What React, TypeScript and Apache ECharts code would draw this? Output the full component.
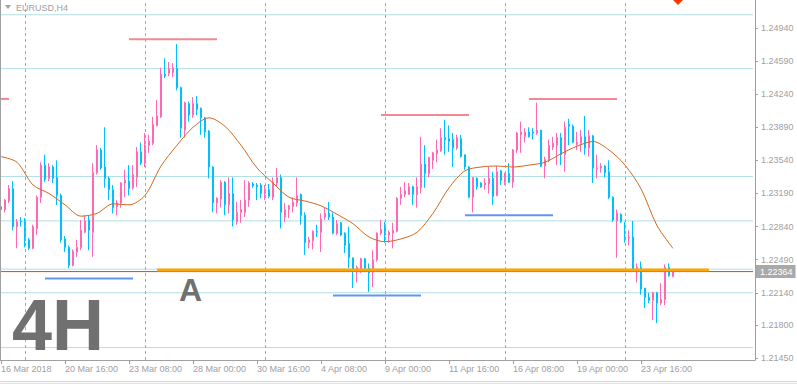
import React, { useEffect, useRef } from 'react';
import * as echarts from 'echarts';

// ---- axis labels ----
const tickLabels = ['16 Mar 2018', '20 Mar 16:00', '23 Mar 08:00', '28 Mar 00:00', '30 Mar 16:00', '4 Apr 08:00', '9 Apr 00:00', '11 Apr 16:00', '16 Apr 08:00', '19 Apr 00:00', '23 Apr 16:00'];
const tickEvery = 16;
const barSlots = 189;
const yTicks = [1.2145, 1.2180, 1.2214, 1.2249, 1.2284, 1.2319, 1.2354, 1.2389, 1.2424, 1.2459, 1.2494];
const yMin = 1.21429;
const yMax = 1.25236;

// ---- EURUSD H4 candles ----
const openP = [
  1.2305, 1.2302, 1.2311, 1.2324, 1.2284, 1.2290, 1.2289, 1.2270, 1.2261, 1.2282,
  1.2315, 1.2349, 1.2335, 1.2347, 1.2336, 1.2317, 1.2271, 1.2262, 1.2243, 1.2257,
  1.2262, 1.2278, 1.2291, 1.2278, 1.2341, 1.2365, 1.2347, 1.2335, 1.2323, 1.2305,
  1.2309, 1.2330, 1.2332, 1.2325, 1.2336, 1.2363, 1.2351, 1.2370, 1.2372, 1.2391,
  1.2400, 1.2445, 1.2446, 1.2447, 1.2451, 1.2431, 1.2386, 1.2414, 1.2402, 1.2414,
  1.2409, 1.2399, 1.2385, 1.2347, 1.2309, 1.2313, 1.2331, 1.2307, 1.2319, 1.2289,
  1.2299, 1.2299, 1.2312, 1.2329, 1.2328, 1.2328, 1.2319, 1.2323, 1.2315, 1.2330,
  1.2336, 1.2294, 1.2302, 1.2305, 1.2309, 1.2318, 1.2296, 1.2267, 1.2269, 1.2279,
  1.2278, 1.2294, 1.2298, 1.2294, 1.2277, 1.2288, 1.2277, 1.2266, 1.2251, 1.2238,
  1.2238, 1.2250, 1.2240, 1.2236, 1.2249, 1.2277, 1.2286, 1.2275, 1.2277, 1.2279,
  1.2314, 1.2318, 1.2318, 1.2326, 1.2318, 1.2325, 1.2350, 1.2340, 1.2354, 1.2361,
  1.2364, 1.2378, 1.2377, 1.2376, 1.2367, 1.2377, 1.2360, 1.2347, 1.2315, 1.2335,
  1.2330, 1.2328, 1.2329, 1.2335, 1.2317, 1.2343, 1.2331, 1.2340, 1.2331, 1.2365,
  1.2381, 1.2379, 1.2384, 1.2384, 1.2383, 1.2386, 1.2348, 1.2354, 1.2368, 1.2370,
  1.2378, 1.2360, 1.2392, 1.2390, 1.2371, 1.2372, 1.2379, 1.2367, 1.2380, 1.2345,
  1.2346, 1.2348, 1.2342, 1.2315, 1.2290, 1.2297, 1.2273, 1.2272, 1.2273, 1.2238,
  1.2241, 1.2219, 1.2209, 1.2206, 1.2214, 1.2203, 1.2207, 1.2241, 1.2231,
];
const closeP = [
  1.2302, 1.2312, 1.2324, 1.2284, 1.2289, 1.2289, 1.2269, 1.2261, 1.2284, 1.2315,
  1.2349, 1.2334, 1.2347, 1.2335, 1.2317, 1.2270, 1.2262, 1.2243, 1.2258, 1.2262,
  1.2280, 1.2290, 1.2280, 1.2341, 1.2365, 1.2346, 1.2335, 1.2323, 1.2304, 1.2309,
  1.2330, 1.2333, 1.2324, 1.2339, 1.2363, 1.2351, 1.2370, 1.2374, 1.2392, 1.2401,
  1.2445, 1.2443, 1.2451, 1.2452, 1.2431, 1.2388, 1.2415, 1.2402, 1.2414, 1.2408,
  1.2399, 1.2384, 1.2347, 1.2309, 1.2314, 1.2331, 1.2307, 1.2319, 1.2291, 1.2299,
  1.2302, 1.2312, 1.2330, 1.2327, 1.2326, 1.2319, 1.2323, 1.2316, 1.2331, 1.2336,
  1.2299, 1.2302, 1.2306, 1.2310, 1.2317, 1.2296, 1.2267, 1.2270, 1.2279, 1.2278,
  1.2292, 1.2298, 1.2294, 1.2277, 1.2287, 1.2275, 1.2264, 1.2251, 1.2238, 1.2241,
  1.2250, 1.2240, 1.2235, 1.2249, 1.2277, 1.2281, 1.2275, 1.2278, 1.2280, 1.2314,
  1.2318, 1.2322, 1.2326, 1.2318, 1.2326, 1.2350, 1.2340, 1.2357, 1.2362, 1.2365,
  1.2378, 1.2376, 1.2374, 1.2367, 1.2378, 1.2358, 1.2347, 1.2315, 1.2336, 1.2326,
  1.2326, 1.2330, 1.2335, 1.2316, 1.2342, 1.2333, 1.2340, 1.2331, 1.2365, 1.2383,
  1.2384, 1.2384, 1.2379, 1.2383, 1.2386, 1.2348, 1.2355, 1.2370, 1.2372, 1.2378,
  1.2360, 1.2389, 1.2390, 1.2373, 1.2373, 1.2379, 1.2367, 1.2380, 1.2346, 1.2346,
  1.2348, 1.2341, 1.2315, 1.2291, 1.2298, 1.2289, 1.2271, 1.2273, 1.2238, 1.2241,
  1.2218, 1.2209, 1.2206, 1.2214, 1.2203, 1.2207, 1.2241, 1.2232, 1.22364,
];
const lowP = [
  1.2296, 1.2299, 1.2309, 1.2280, 1.2261, 1.2284, 1.2262, 1.2259, 1.2260, 1.2275,
  1.2309, 1.2331, 1.2332, 1.2330, 1.2307, 1.2267, 1.2257, 1.2240, 1.2242, 1.2252,
  1.2259, 1.2277, 1.2259, 1.2252, 1.2339, 1.2344, 1.2325, 1.2312, 1.2298, 1.2296,
  1.2304, 1.2315, 1.2317, 1.2323, 1.2326, 1.2349, 1.2347, 1.2362, 1.2370, 1.2390,
  1.2399, 1.2441, 1.2443, 1.2442, 1.2428, 1.2378, 1.2378, 1.2395, 1.2399, 1.2402,
  1.2381, 1.2378, 1.2335, 1.2299, 1.2298, 1.2304, 1.2296, 1.2298, 1.2284, 1.2286,
  1.2288, 1.2294, 1.2305, 1.2325, 1.2312, 1.2314, 1.2312, 1.2314, 1.2312, 1.2326,
  1.2282, 1.2289, 1.2293, 1.2299, 1.2305, 1.2286, 1.2254, 1.2261, 1.2260, 1.2273,
  1.2257, 1.2291, 1.2291, 1.2276, 1.2275, 1.2274, 1.2256, 1.2240, 1.2219, 1.2225,
  1.2235, 1.2236, 1.2215, 1.2220, 1.2247, 1.2275, 1.2267, 1.2267, 1.2261, 1.2278,
  1.2307, 1.2315, 1.2318, 1.2307, 1.2304, 1.2319, 1.2325, 1.2336, 1.2345, 1.2352,
  1.2363, 1.2360, 1.2363, 1.2347, 1.2365, 1.2357, 1.2344, 1.2314, 1.2299, 1.2323,
  1.2325, 1.2323, 1.2319, 1.2307, 1.2316, 1.2328, 1.2328, 1.2330, 1.2325, 1.2362,
  1.2362, 1.2373, 1.2378, 1.2376, 1.2381, 1.2347, 1.2335, 1.2352, 1.2365, 1.2349,
  1.2349, 1.2342, 1.2370, 1.2372, 1.2365, 1.2363, 1.2360, 1.2358, 1.2330, 1.2335,
  1.2341, 1.2336, 1.2313, 1.2289, 1.2251, 1.2288, 1.2267, 1.2264, 1.2238, 1.2225,
  1.2212, 1.2198, 1.2203, 1.2185, 1.2182, 1.2201, 1.2201, 1.2231, 1.2231,
];
const highP = [
  1.2310, 1.2313, 1.2328, 1.2332, 1.2292, 1.2294, 1.2293, 1.2272, 1.2286, 1.2317,
  1.2352, 1.2360, 1.2351, 1.2349, 1.2354, 1.2319, 1.2274, 1.2264, 1.2260, 1.2270,
  1.2291, 1.2296, 1.2296, 1.2351, 1.2370, 1.2367, 1.2389, 1.2337, 1.2328, 1.2312,
  1.2331, 1.2344, 1.2349, 1.2349, 1.2368, 1.2373, 1.2383, 1.2381, 1.2400, 1.2418,
  1.2452, 1.2462, 1.2458, 1.2457, 1.2477, 1.2432, 1.2416, 1.2416, 1.2421, 1.2422,
  1.2410, 1.2400, 1.2386, 1.2348, 1.2315, 1.2333, 1.2332, 1.2336, 1.2336, 1.2310,
  1.2312, 1.2333, 1.2332, 1.2331, 1.2330, 1.2330, 1.2328, 1.2329, 1.2336, 1.2346,
  1.2339, 1.2309, 1.2307, 1.2315, 1.2336, 1.2319, 1.2299, 1.2273, 1.2280, 1.2286,
  1.2298, 1.2304, 1.2310, 1.2299, 1.2291, 1.2289, 1.2278, 1.2284, 1.2251, 1.2243,
  1.2251, 1.2251, 1.2245, 1.2259, 1.2278, 1.2291, 1.2289, 1.2280, 1.2288, 1.2315,
  1.2326, 1.2331, 1.2330, 1.2327, 1.2336, 1.2379, 1.2370, 1.2358, 1.2363, 1.2376,
  1.2388, 1.2397, 1.2391, 1.2383, 1.2381, 1.2381, 1.2360, 1.2348, 1.2336, 1.2336,
  1.2331, 1.2335, 1.2347, 1.2342, 1.2348, 1.2344, 1.2341, 1.2351, 1.2366, 1.2384,
  1.2395, 1.2388, 1.2389, 1.2388, 1.2415, 1.2386, 1.2358, 1.2376, 1.2379, 1.2383,
  1.2383, 1.2395, 1.2398, 1.2392, 1.2384, 1.2386, 1.2401, 1.2386, 1.2381, 1.2360,
  1.2351, 1.2349, 1.2354, 1.2316, 1.2302, 1.2298, 1.2289, 1.2280, 1.2290, 1.2245,
  1.2247, 1.2219, 1.2214, 1.2215, 1.2215, 1.2224, 1.2244, 1.2245, 1.2237,
];

// ---- moving average (read every 4 bars) ----
const maBars = [0, 4, 8, 12, 16, 20, 24, 28, 32, 36, 40, 44, 48, 52, 56, 60, 64, 68, 72, 76, 80, 84, 88, 92, 96, 100, 104, 108, 112, 116, 120, 124, 128, 132, 136, 140, 144, 148, 152, 156, 160, 164, 168];
const maValues = [1.2358, 1.2352, 1.2328, 1.2319, 1.2307, 1.2295, 1.2298, 1.2308, 1.2307, 1.2317, 1.2348, 1.2370, 1.2389, 1.2399, 1.2390, 1.2370, 1.2346, 1.2330, 1.2315, 1.2311, 1.2306, 1.2297, 1.2287, 1.2273, 1.2268, 1.2271, 1.2278, 1.2298, 1.2325, 1.2343, 1.2347, 1.2348, 1.2347, 1.2349, 1.2352, 1.2361, 1.2369, 1.2374, 1.2365, 1.2349, 1.2324, 1.2285, 1.2261];

// ---- drawn objects ----
const hLevels = [1.2508, 1.2451, 1.2337, 1.2290, 1.2239, 1.2214, 1.2156];
const weekSeparators = [6, 36, 66, 96, 126, 156];
const bidPrice = 1.22364;
const pinkLevel = [1.2482, 1.2419, 1.2402, 1.2419];
const pinkStart = [32, 0, 95, 132];
const pinkEnd = [54, 2, 117, 154];
const blueLevel = [1.2229, 1.2211, 1.2296];
const blueStart = [11, 83, 116];
const blueEnd = [33, 105, 138];
const orangeLevel = 1.2238;
const orangeStart = 39;
const orangeEnd = 177;

const FONT = '"Liberation Sans", Arial, sans-serif';
const GREY = '#a0a0a0';
const BID_RED = '#ff3a00';

export default function App() {
  const ref = useRef<HTMLDivElement>(null);
  useEffect(() => {
    if (!ref.current) return;
    const chart = echarts.init(ref.current, null, { renderer: 'svg' });
    const categories = Array.from({ length: barSlots }, (_, i) => String(i));
    const lastSlot = barSlots - 1;
    const showTick = (i: number) => i % tickEvery === 0 && i / tickEvery < tickLabels.length;
    const candles = openP.map((o, i) => [o, closeP[i], lowP[i], highP[i]]);
    const hSeries = (v: number, x0: number, x1: number, color: string, width: number, z: number) => ({
      type: 'line', z, silent: true, symbol: 'none', color,
      itemStyle: { color }, lineStyle: { color, width },
      data: [[x0, v], [x1, v]],
    });

    const option: any = {
      animation: false,
      backgroundColor: '#ffffff',
      grid: { left: -1, right: 42, top: 0, bottom: 24, containLabel: false, outerBoundsMode: 'none' },
      xAxis: {
        type: 'category', data: categories, boundaryGap: true,
        axisLine: { show: true, lineStyle: { color: GREY, width: 1 } },
        axisTick: { show: true, length: 4, alignWithLabel: true, interval: (i: number) => showTick(i), lineStyle: { color: GREY } },
        axisLabel: {
          interval: (i: number) => showTick(i), color: GREY, fontSize: 9, fontFamily: FONT, align: 'left', margin: 4,
          formatter: (v: string) => { const i = Number(v); return showTick(i) ? tickLabels[i / tickEvery] : ''; },
        },
        splitLine: { show: false },
      },
      yAxis: [
        {
          type: 'value', position: 'right', min: yMin, max: yMax,
          axisLine: { show: true, lineStyle: { color: GREY, width: 1 } },
          axisTick: { show: true, length: 3, customValues: yTicks, lineStyle: { color: GREY } },
          axisLabel: { customValues: yTicks, color: GREY, fontSize: 9, fontFamily: FONT, margin: 6, formatter: (v: number) => v.toFixed(5) },
          splitLine: { show: false },
        },
        {
          type: 'value', position: 'right', min: yMin, max: yMax, offset: 0,
          axisLine: { show: false }, axisTick: { show: false }, splitLine: { show: false },
          axisLabel: {
            customValues: [bidPrice], formatter: (v: number) => v.toFixed(5), margin: 1,
            color: '#ffffff', backgroundColor: '#a9a9a9', padding: [2, 3, 2, 4], fontSize: 9, fontFamily: FONT,
          },
        },
      ],
      series: [
        ...hLevels.map((v) => hSeries(v, 0, lastSlot, '#b0dfe5', 1, 1)),
        {
          type: 'candlestick', z: 2, silent: true, barWidth: 2,
          itemStyle: { color: '#ff69b4', color0: '#00bfff', borderColor: '#ff69b4', borderColor0: '#00bfff', borderColorDoji: '#00bfff', borderWidth: 1 },
          data: candles,
          markLine: {
            silent: true, symbol: ['none', 'none'], animation: false,
            label: { show: false },
            data: weekSeparators.map((b) => ({ xAxis: b, lineStyle: { color: '#a8a8a8', width: 1, type: [3, 3] } })),
          },
        },
        {
          type: 'line', z: 3, silent: true, symbol: 'none', smooth: 0.3, color: '#d2691e',
          lineStyle: { color: '#d2691e', width: 1 },
          data: maBars.map((b, k) => [b, maValues[k]]),
        },
        ...pinkLevel.map((v, k) => hSeries(v, pinkStart[k], pinkEnd[k], '#f08a90', 2, 4)),
        ...blueLevel.map((v, k) => hSeries(v, blueStart[k], blueEnd[k], '#6495ed', 2, 4)),
        hSeries(bidPrice, 0, lastSlot, BID_RED, 1, 4),
        hSeries(orangeLevel, orangeStart, orangeEnd, '#ffa500', 3, 5),
      ],
      graphic: [
        { type: 'line', z: 10, shape: { x1: 0.5, y1: 0, x2: 0.5, y2: 360 }, style: { stroke: GREY, lineWidth: 1 } },
        { type: 'line', z: 10, shape: { x1: 0, y1: 381.5, x2: 797, y2: 381.5 }, style: { stroke: '#d6d6d6', lineWidth: 1 } },
        { type: 'line', z: 10, shape: { x1: 0, y1: 383.5, x2: 797, y2: 383.5 }, style: { stroke: '#e2e2e2', lineWidth: 1 } },
        { type: 'polygon', z: 10, shape: { points: [[5, 5], [11, 5], [8, 9]] }, style: { fill: GREY } },
        { type: 'text', z: 10, x: 16, y: 7.5, style: { text: 'EURUSD,H4', fill: GREY, fontSize: 9, fontFamily: FONT, verticalAlign: 'middle', align: 'left' } },
        { type: 'polygon', z: 10, shape: { points: [[673, 0], [683, 0], [678, 5]] }, style: { fill: BID_RED } },
        { type: 'text', z: 10, x: 12, y: 325, style: { text: '4H', fill: '#707070', fontSize: 72, fontWeight: 'bold', fontFamily: FONT, verticalAlign: 'middle', align: 'left' } },
        { type: 'text', z: 10, x: 179, y: 290, style: { text: 'A', fill: '#707070', fontSize: 32, fontWeight: 'bold', fontFamily: FONT, verticalAlign: 'middle', align: 'left' } },
      ],
    };
    chart.setOption(option);
    return () => chart.dispose();
  }, []);
  return <div ref={ref} style={{ position: 'absolute', left: 0, top: 0, width: 797, height: 384, background: '#ffffff' }} />;
}
